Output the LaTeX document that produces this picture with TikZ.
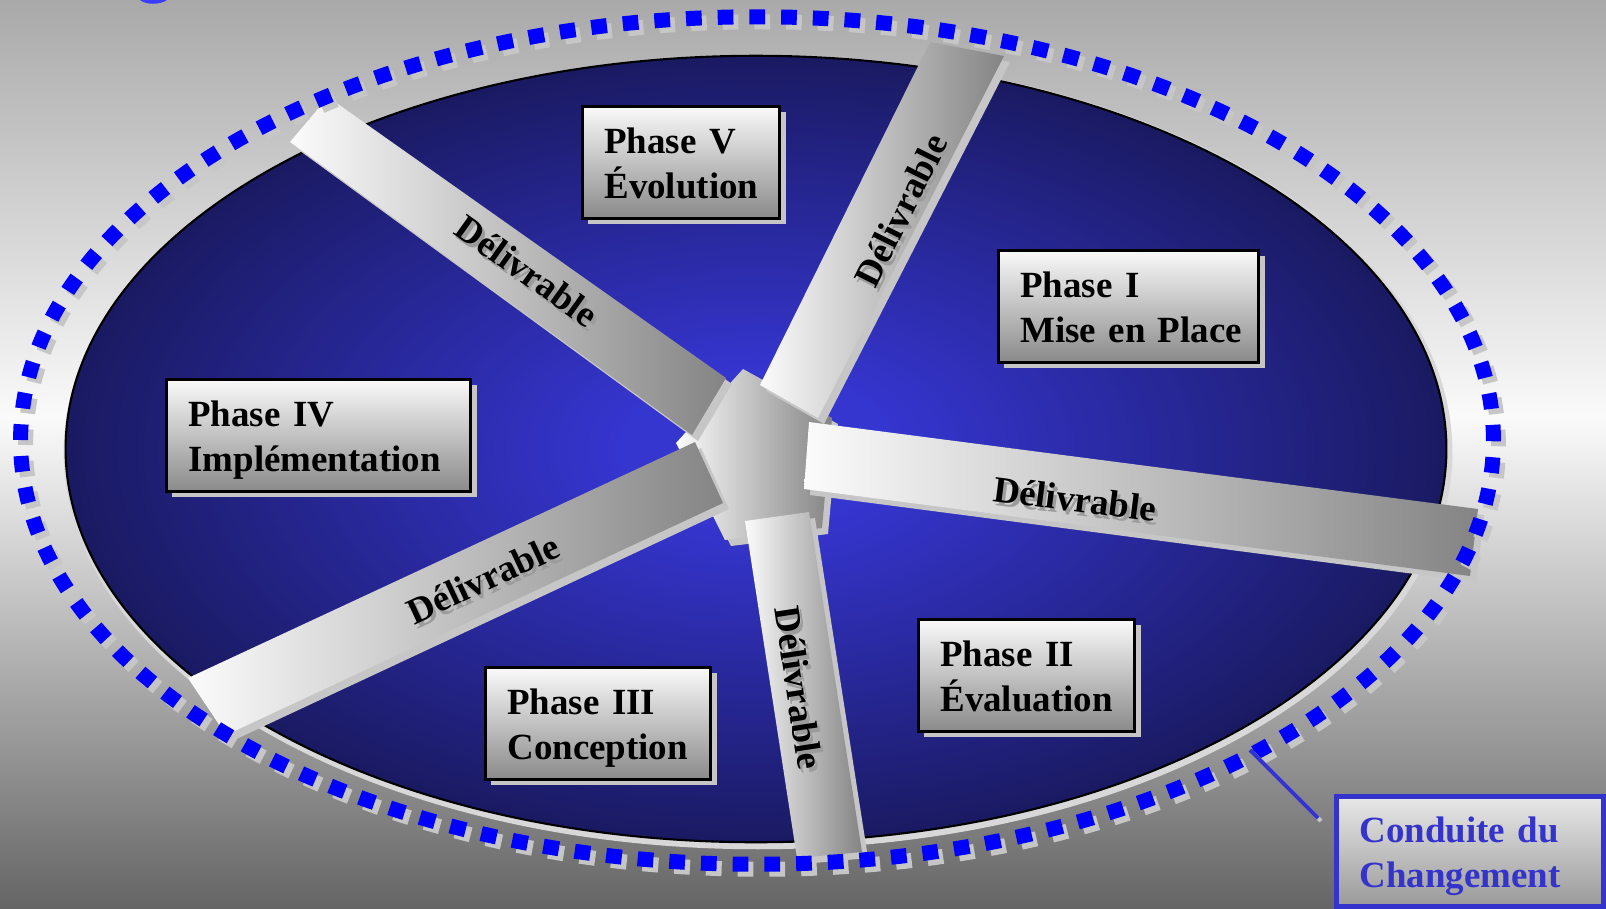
\documentclass[tikz,border=0pt]{standalone}
\usepackage{fontspec}
\setmainfont{Liberation Serif}
\usetikzlibrary{shadows}
\definecolor{navyA}{HTML}{3535CF}
\definecolor{navyB}{HTML}{1A1A62}
\definecolor{bgtop}{HTML}{A9A9A9}
\definecolor{bgmid}{HTML}{FAFAFA}
\definecolor{bgbot}{HTML}{656565}
\definecolor{shgray}{HTML}{C6C6C6}
\definecolor{barlight}{HTML}{FBFBFB}
\definecolor{bardark}{HTML}{848484}
\definecolor{ringblue}{HTML}{0000FF}
\definecolor{cdblue}{HTML}{3434CC}
\definecolor{fragblue}{HTML}{3C3CFF}
\definecolor{boxlight}{HTML}{FAFAFA}
\definecolor{boxdark}{HTML}{8A8A8A}
\definecolor{cdlight}{HTML}{E8E8E8}
\definecolor{cddark}{HTML}{9A9A9A}
\definecolor{halo}{HTML}{D8D8D8}
\definecolor{txtsh}{HTML}{9C9C9C}
\pgfdeclareverticalshading{bgshade}{100bp}{color(0bp)=(bgbot); color(25bp)=(bgbot); color(52bp)=(bgmid); color(75bp)=(bgtop); color(100bp)=(bgtop)}
\pgfdeclareradialshading{ellshade}{\pgfpoint{0bp}{0bp}}{color(0bp)=(navyA); color(5bp)=(navyA); color(25bp)=(navyB); color(50bp)=(navyB)}
\newcommand\tline[1]{\rule{0pt}{0.28cm}\smash{#1}}
\tikzset{
  lbl/.style={font=\fontsize{10.5}{12.8}\selectfont\bfseries},
  phasebox/.style={lbl, draw=black, line width=0.8pt, top color=boxlight, bottom color=boxdark,
     anchor=north west, inner xsep=0.22cm, inner ysep=0pt, align=left, minimum height=1.12cm,
     drop shadow={shadow xshift=0.06cm, shadow yshift=-0.06cm, fill=shgray, opacity=1}},
  barbody/.style={left color=barlight, right color=bardark},
  barshade/.style={fill=shgray, shift={(6,6)}},
  deliv/.style={lbl, inner sep=0pt},
  delivsh/.style={lbl, inner sep=0pt, text=txtsh},
  ringdash/.style={line width=0.15cm, dash pattern=on 0.157cm off 0.16cm},
}
\begin{document}
\begin{tikzpicture}[x=0.01cm, y=-0.01cm]
\useasboundingbox (0,0) rectangle (1606,908);
\shade[shading=bgshade] (0,0) rectangle (1606,908);
\fill[fragblue] (140,0) .. controls (146,5) and (160,5) .. (167,0) -- cycle;
% oval
\fill[halo] (758,452) ellipse [x radius=6.94cm, y radius=3.97cm];
\shadedraw[shading=ellshade, draw=black, line width=0.6pt] (756,449) ellipse [x radius=6.90cm, y radius=3.93cm];
% hub
\fill[barshade] (743,369) -- (832,418) -- (822,528) -- (725,540) -- (676,443) -- cycle;
\shade[barbody] (743,369) -- (832,418) -- (822,528) -- (725,540) -- (676,443) -- cycle;
% bars
\fill[barshade] (328,97) -- (726,378) -- (692,435) -- (290,142) -- cycle;
\shade[barbody] (328,97) -- (726,378) -- (692,435) -- (290,142) -- cycle;
\fill[barshade] (930,42) -- (1004,56) -- (818,418) -- (760,385) -- cycle;
\shade[barbody] (930,42) -- (1004,56) -- (818,418) -- (760,385) -- cycle;
\fill[barshade] (809,422) -- (1478,509) -- (1470,576) -- (804,489) -- cycle;
\shade[barbody] (809,422) -- (1478,509) -- (1470,576) -- (804,489) -- cycle;
\fill[barshade] (745,521) -- (809,512) -- (862,852) -- (797,858) -- cycle;
\shade[barbody] (745,521) -- (809,512) -- (862,852) -- (797,858) -- cycle;
\fill[barshade] (188,678) -- (695,442) -- (723,503) -- (226,735) -- cycle;
\shade[barbody] (188,678) -- (695,442) -- (723,503) -- (226,735) -- cycle;
% bar labels
\node[delivsh, rotate=-35.5] (d1s) at (530,275) {Délivrable};
\node[deliv, rotate=-35.5] (d1) at (527,271) {Délivrable};
\node[delivsh, rotate=63.5] (d2s) at (904,214) {Délivrable};
\node[deliv, rotate=63.5] (d2) at (901,210) {Délivrable};
\node[delivsh, rotate=-7.3] (d3s) at (1078,503) {Délivrable};
\node[deliv, rotate=-7.3] (d3) at (1075,499) {Délivrable};
\node[delivsh, rotate=-81.3] (d4s) at (802,692) {Délivrable};
\node[deliv, rotate=-81.3] (d4) at (799,688) {Délivrable};
\node[delivsh, rotate=25] (d5s) at (486,583) {Délivrable};
\node[deliv, rotate=25] (d5) at (483,579) {Délivrable};
% phase boxes
\node[phasebox, text width=1.53cm] (p5) at (581,105) {\tline{Phase V}\\\tline{Évolution}};
\node[phasebox, text width=2.16cm] (p1) at (997,249) {\tline{Phase I}\\\tline{Mise en Place}};
\node[phasebox, text width=2.60cm] (p4) at (165,378) {\tline{Phase IV}\\\tline{Implémentation}};
\node[phasebox, text width=1.72cm] (p2) at (917,618) {\tline{Phase II}\\\tline{Évaluation}};
\node[phasebox, text width=1.81cm] (p3) at (484,666) {\tline{Phase III}\\\tline{Conception}};
% dotted ring
\draw[shgray, ringdash] (762,445.5) ellipse [x radius=7.36cm, y radius=4.235cm];
\draw[ringblue, ringdash] (757,440.5) ellipse [x radius=7.36cm, y radius=4.235cm];
% leader and change box
\coordinate (ls) at (1250,750);
\coordinate (le) at (1318,818);
\coordinate (lss) at (1253,753);
\coordinate (les) at (1321,821);
\draw[shgray, line width=0.04cm] (lss) -- (les);
\draw[cdblue, line width=0.04cm] (ls) -- (le);
\node[lbl, draw=cdblue, line width=0.05cm, top color=cdlight, bottom color=cddark, anchor=north west,
  minimum width=2.67cm, minimum height=1.10cm, inner xsep=0.235cm, inner ysep=0pt,
  text width=2.2cm, align=left, text=cdblue] (cd) at (1333.5,793.5) {\tline{Conduite du}\\\tline{Changement}};
\end{tikzpicture}
\end{document}
